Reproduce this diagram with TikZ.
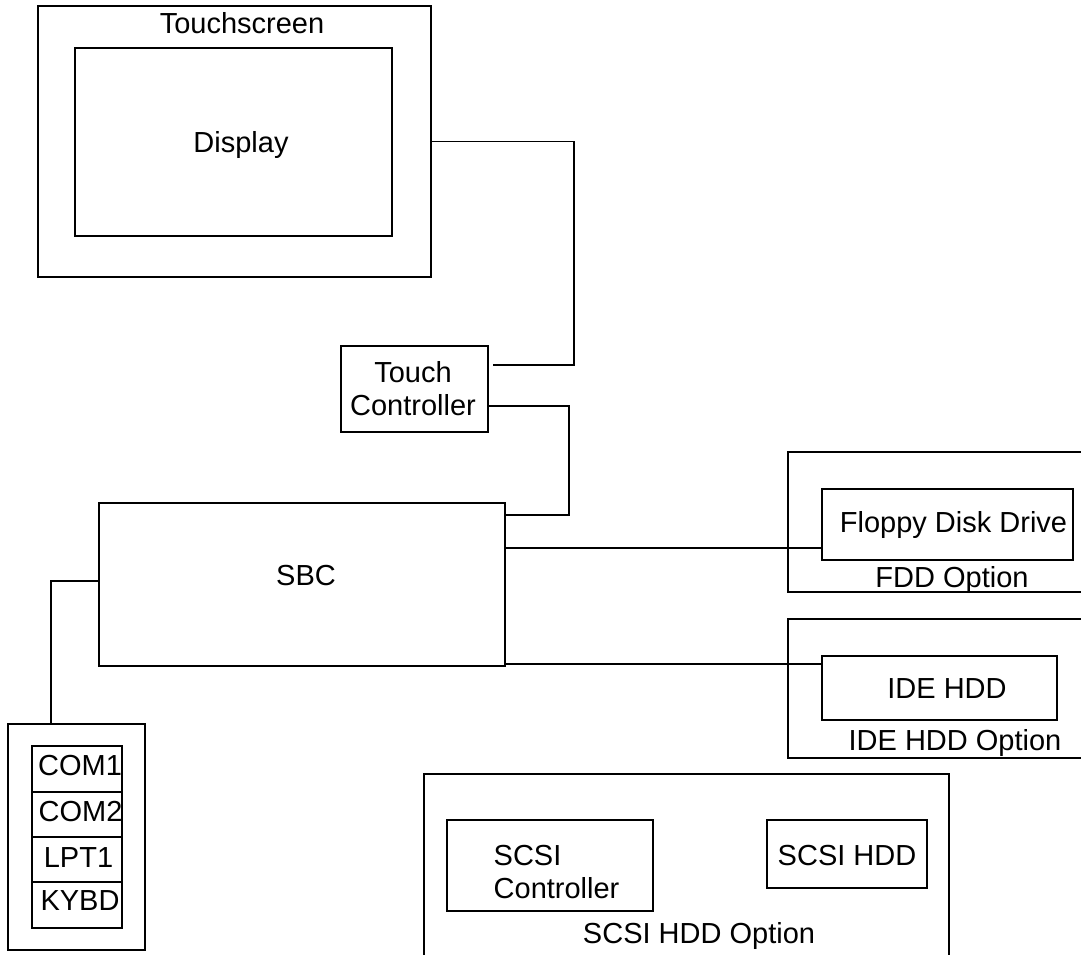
\documentclass[tikz,border=0pt]{standalone}
\usepackage{fontspec}
\setmainfont{Liberation Sans}
\begin{document}
\begin{tikzpicture}[x=1pt,y=-1pt,line width=1.4pt,
  box/.style={draw=black,rectangle,inner sep=0pt,minimum width=#1},
  txt/.style={inner sep=0pt,font=\fontsize{29}{33}\selectfont,text height=20.8pt,text depth=0pt},
  mtxt/.style={inner sep=0pt,font=\fontsize{29}{33}\selectfont},
  conn/.style={draw=black,line width=1.4pt}]
\useasboundingbox (0,0) rectangle (1081,955);
\clip (0,0) rectangle (1081,955);
% Touchscreen
\node[box=393pt,minimum height=271pt] (ts) at (234.5,141.5) {};
\node[txt] (tslabel) at (242,23) {Touchscreen};
\node[box=317pt,minimum height=188pt] (disp) at (233.5,142) {};
\node[txt] (displabel) at (241,142) {Display};
% Touch controller
\node[box=147pt,minimum height=86pt] (tc) at (414.5,389) {};
\node[mtxt,align=center] (tclabel) at (413,389) {Touch\\Controller};
% SBC
\node[box=406pt,minimum height=163pt] (sbc) at (302,584.5) {};
\node[txt] (sbclabel) at (306,575) {SBC};
% FDD option
\node[box=307pt,minimum height=140pt] (fddopt) at (941.5,522) {};
\node[box=251pt,minimum height=71pt] (fdd) at (947.5,524.5) {};
\node[txt] (fddlabel) at (953.5,522) {Floppy Disk Drive};
\node[txt] (fddoptlabel) at (952,577) {FDD Option};
% IDE option
\node[box=307pt,minimum height=139pt] (ideopt) at (941.5,688.5) {};
\node[box=235pt,minimum height=64pt] (ide) at (939.5,688) {};
\node[txt] (idelabel) at (947,688) {IDE HDD};
\node[txt] (ideoptlabel) at (955,740) {IDE HDD Option};
% SCSI option
\node[box=525pt,minimum height=201pt] (scsiopt) at (686.5,874.5) {};
\node[box=206pt,minimum height=91pt] (scsictl) at (550,865.5) {};
\node[mtxt,align=left,anchor=west] (scsictllabel) at (493,872.5) {SCSI\\Controller};
\node[box=160pt,minimum height=68pt] (scsihdd) at (847,854) {};
\node[txt] (scsihddlabel) at (847,855) {SCSI HDD};
\node[txt] (scsioptlabel) at (699,933) {SCSI HDD Option};
% Ports
\node[box=137pt,minimum height=226pt] (ports) at (76.5,837) {};
\node[box=90pt,minimum height=46pt] (com1) at (77,769) {};
\node[box=90pt,minimum height=45pt] (com2) at (77,814.5) {};
\node[box=90pt,minimum height=45pt] (lpt1) at (77,859.5) {};
\node[box=90pt,minimum height=46pt] (kybd) at (77,905) {};
\node[txt] (com1label) at (80,765.5) {COM1};
\node[txt] (com2label) at (80.5,811) {COM2};
\node[txt] (lpt1label) at (78.5,857.5) {LPT1};
\node[txt] (kybdlabel) at (80,900) {KYBD};
% connectors
\coordinate (tcfree) at (493,365);
\draw[conn] (ts.east) -| (574,365) -- (tcfree);
\coordinate (tcout) at ([yshift=-17pt]tc.east);
\coordinate (sbcin) at ([yshift=69.5pt]sbc.east);
\draw[conn] (tcout) -| (569,515) |- (sbcin);
\coordinate (s1) at ([yshift=36.5pt]sbc.east);
\draw[conn] (s1) -- (s1 -| fdd.west);
\coordinate (s2) at ([yshift=-79.5pt]sbc.east);
\draw[conn] (s2) -- (s2 -| ide.west);
\coordinate (s3) at ([yshift=3.5pt]sbc.west);
\coordinate (p1) at ([xshift=-25.5pt]ports.north);
\draw[conn] (s3) -| (p1);
\end{tikzpicture}
\end{document}
